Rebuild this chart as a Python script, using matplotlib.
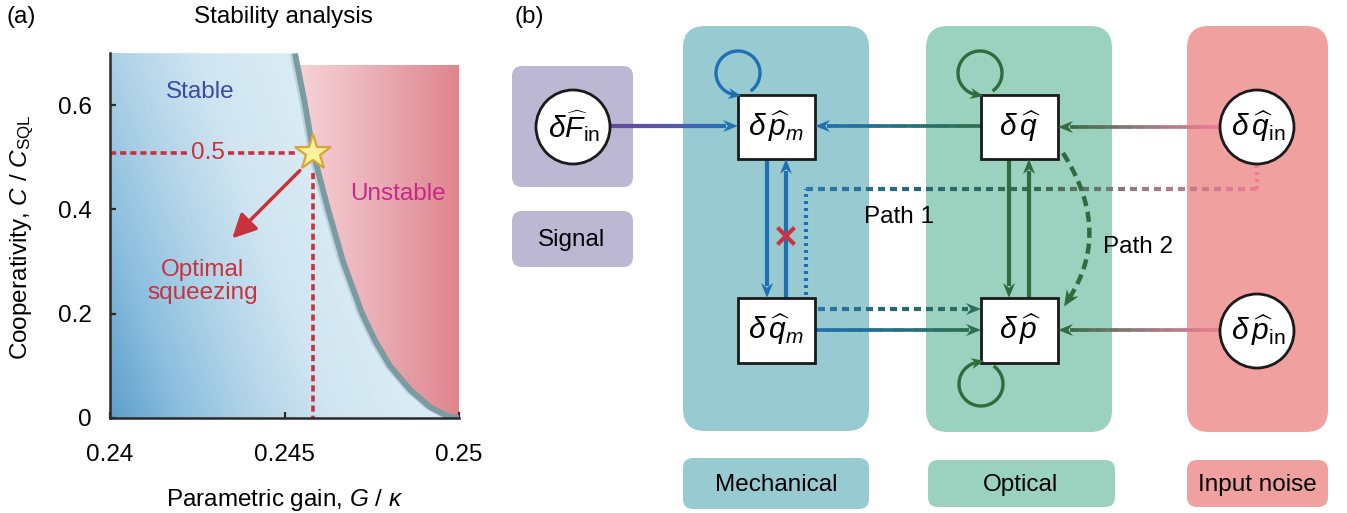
import numpy as np
import matplotlib.pyplot as plt
from matplotlib.patches import FancyBboxPatch, Rectangle, Circle, Polygon
from matplotlib.collections import LineCollection
from matplotlib.colors import LinearSegmentedColormap

plt.rcParams['font.family'] = ['Liberation Sans', 'DejaVu Sans']
plt.rcParams['mathtext.fontset'] = 'custom'
plt.rcParams['mathtext.rm'] = 'Liberation Sans'
plt.rcParams['mathtext.it'] = 'Liberation Sans:italic'
plt.rcParams['mathtext.bf'] = 'Liberation Sans:bold'

# --- DATA: panel (a), stability boundary ---
G_BOUND = [0.24530, 0.24559, 0.24582, 0.24625, 0.24668, 0.24722,
           0.24759, 0.24802, 0.24860, 0.24917, 0.24966, 0.25]
C_BOUND = [0.699, 0.601, 0.509, 0.400, 0.300, 0.201,
           0.149, 0.100, 0.054, 0.021, 0.004, 0.0]
G_OPT, C_OPT = 0.24582, 0.509          # optimal squeezing point (star)
UNSTABLE_TOP = 0.676
X_TICKS = [0.24, 0.245, 0.25]
X_LABELS = ["0.24", "0.245", "0.25"]
Y_TICKS = [0, 0.2, 0.4, 0.6]
Y_LABELS = ["0", "0.2", "0.4", "0.6"]

# --- DATA: panel (b), labels ---
GROUP_NAMES = ["Signal", "Mechanical", "Optical", "Input noise"]
NODE_F_IN = r'$\delta\widehat{F}_{\mathrm{in}}$'
NODE_P_M = r'$\delta\,\widehat{p}_m$'
NODE_Q_M = r'$\delta\,\widehat{q}_m$'
NODE_Q = r'$\delta\,\widehat{q}$'
NODE_P = r'$\delta\,\widehat{p}$'
NODE_Q_IN = r'$\delta\,\widehat{q}_{\mathrm{in}}$'
NODE_P_IN = r'$\delta\,\widehat{p}_{\mathrm{in}}$'
PATH_NAMES = ["Path 1", "Path 2"]

RED = '#c8323c'
BLUE = '#1f6fb4'
GREEN = '#2f6b3d'
FS = 17.5

fig = plt.figure(figsize=(13.47, 5.13), dpi=100)

# overlay in pixel coordinates (y down) for the diagram and loose text
ov = fig.add_axes([0, 0, 1, 1])
ov.set_xlim(0, 1347)
ov.set_ylim(513, 0)
ov.axis('off')


# ---------------- helpers ----------------
def grad_line(p0, p1, cols, lw, n=80, z=3):
    p0, p1 = np.array(p0, float), np.array(p1, float)
    ts = np.linspace(0, 1, n + 1)
    u = (p1 - p0) / np.hypot(*(p1 - p0))
    segs = [[p0 + (p1 - p0) * ts[i], p0 + (p1 - p0) * ts[i + 1] + u * 0.6] for i in range(n)]
    cmap = LinearSegmentedColormap.from_list('g', cols)
    ov.add_collection(LineCollection(segs, colors=cmap((ts[:-1] + ts[1:]) / 2),
                                     linewidths=lw, capstyle='butt', zorder=z))


def dash_grad(p0, p1, cols, lw, dash, gap, z=3):
    p0, p1 = np.array(p0, float), np.array(p1, float)
    L = np.hypot(*(p1 - p0))
    u = (p1 - p0) / L
    starts = np.arange(0, L, dash + gap)
    segs = [[p0 + u * s, p0 + u * min(s + dash, L)] for s in starts]
    cmap = LinearSegmentedColormap.from_list('g', cols)
    ov.add_collection(LineCollection(segs, colors=cmap(np.clip((starts + dash / 2) / L, 0, 1)),
                                     linewidths=lw, capstyle='butt', zorder=z))


def head(tip, d, color, L=15, W=12, z=5):
    tip = np.array(tip, float)
    d = np.array(d, float)
    d /= np.hypot(*d)
    nrm = np.array([-d[1], d[0]])
    base = tip - d * L
    pts = [tip, base + nrm * W / 2, tip - d * L * 0.68, base - nrm * W / 2]
    ov.add_patch(Polygon(pts, closed=True, fc=color, ec='none', zorder=z))


def loop(c, r, t0, t1, color, lw=2.4):
    t = np.radians(np.linspace(t0, t1, 120))
    x = c[0] + r * np.cos(t)
    y = c[1] + r * np.sin(t)
    ov.plot(x, y, color=color, lw=lw, solid_capstyle='butt', zorder=3)
    d = np.array([x[-1] - x[-4], y[-1] - y[-4]])
    d /= np.hypot(*d)
    head((x[-1] + d[0] * 6, y[-1] + d[1] * 6), d, color, L=13, W=11)


def rbox(x, y, w, h, color, r):
    ov.add_patch(FancyBboxPatch((x, y), w, h, boxstyle=f"round,pad=0,rounding_size={r}",
                                fc=color, ec='none', zorder=1))


def node_box(x, y, w, h, label):
    ov.add_patch(Rectangle((x, y), w, h, fc='white', ec='#1a1a1a', lw=2.0, zorder=4))
    ov.text(x + w / 2, y + h / 2 - 1, label, ha='center', va='center', fontsize=21.5, zorder=6)


def node_circle(cx, cy, r, label):
    ov.add_patch(Circle((cx, cy), r, fc='white', ec='#1a1a1a', lw=2.0, zorder=4))
    ov.text(cx + 1, cy - 1, label, ha='center', va='center', fontsize=21.5, zorder=6)


# ---------------- panel (a) ----------------
ax = fig.add_axes([110 / 1347, 95 / 513, 349 / 1347, 365 / 513])
ax.set_xlim(0.24, 0.25)
ax.set_ylim(0, 0.7)

# stable region: diagonal blue gradient clipped to the left of the boundary
gg, cc = np.meshgrid(np.linspace(0.24, 0.25, 300), np.linspace(0, 0.7, 300))
t = np.clip((gg - 0.24) / 0.0042 * 0.5 + cc / 0.7 * 0.45, 0, 1)
blue_map = LinearSegmentedColormap.from_list(
    'b', [(0, '#5e9fcc'), (0.25, '#8cbfdf'), (0.5, '#b2d4e9'), (0.75, '#d0e5f1'), (1, '#d9ebf4')])
stable_poly = Polygon([(0.24, 0), (0.24, 0.7)] + list(zip(G_BOUND, C_BOUND)),
                      closed=True, transform=ax.transData)
im = ax.imshow(blue_map(t), extent=[0.24, 0.25, 0, 0.7], origin='lower',
               aspect='auto', zorder=1, interpolation='bilinear')
im.set_clip_path(stable_poly)

# unstable region: horizontal pink gradient to the right of the boundary
pink_map = LinearSegmentedColormap.from_list('p', ['#f6d6da', '#efbcc3', '#e6a0a8', '#e0858f'])
unstable_poly = Polygon(list(zip(G_BOUND, C_BOUND)) + [(0.25, 0.7)],
                        closed=True, transform=ax.transData)
row = pink_map(np.linspace(0, 1, 300))[None, :, :]
im2 = ax.imshow(row, extent=[0.2452, 0.25, 0, UNSTABLE_TOP], origin='lower',
                aspect='auto', zorder=1, interpolation='bilinear')
im2.set_clip_path(unstable_poly)

# boundary band
ax.plot(np.array(G_BOUND) - 0.00008, C_BOUND, color='#bcd3dc', lw=3.5, zorder=2,
        solid_capstyle='butt')
ax.plot(G_BOUND, C_BOUND, color='#7c9aa1', lw=4.2, zorder=3, solid_capstyle='butt')

# dashed guides to the optimal point
dash_kw = dict(color=RED, lw=2.6, dashes=(1.7, 1.1), zorder=4)
ax.plot([0.24, 0.24223], [C_OPT, C_OPT], **dash_kw)
ax.plot([0.24338, 0.24530], [C_OPT, C_OPT], **dash_kw)
ax.plot([G_OPT, G_OPT], [0.47, 0], **dash_kw)
ax.text(0.24281, C_OPT, "0.5", color=RED, fontsize=FS, ha='center', va='center', zorder=5)

ax.plot(G_OPT, C_OPT, marker='*', ms=27, mfc='#f8f29c', mec='#d9a53a', mew=1.6, zorder=6)

ax.annotate('', xy=(0.24350, 0.3445), xytext=(0.24544, 0.4746),
            arrowprops=dict(arrowstyle='-|>,head_length=0.8,head_width=0.4', color=RED,
                            lw=2.5, mutation_scale=18, shrinkA=0, shrinkB=0), zorder=5)

ax.text(0.24258, 0.626, "Stable", color='#3b4ba0', fontsize=FS, ha='center', va='center', zorder=5)
ax.text(0.24825, 0.43, "Unstable", color='#c8288a', fontsize=FS, ha='center', va='center', zorder=5)
ax.text(0.24266, 0.262, "Optimal\nsqueezing", color=RED, fontsize=FS, ha='center',
        va='center', linespacing=1.05, zorder=5)

for s in ['top', 'right']:
    ax.spines[s].set_visible(False)
for s in ['left', 'bottom']:
    ax.spines[s].set_linewidth(1.8)
    ax.spines[s].set_color('#2a2a2a')
    ax.spines[s].set_zorder(7)
ax.set_xticks(X_TICKS)
ax.set_xticklabels(X_LABELS)
ax.set_yticks(Y_TICKS)
ax.set_yticklabels(Y_LABELS)
ax.tick_params(axis='both', direction='in', length=4, width=1.6, labelsize=FS, color='#2a2a2a')
ax.tick_params(axis='x', pad=19)
ax.tick_params(axis='y', pad=13)

ov.text(21, 17, "(a)", fontsize=FS, ha='center', va='center')
ov.text(283, 17, "Stability analysis", fontsize=FS, ha='center', va='center')
ov.text(22, 237, r'Cooperativity, $C$ / $C_{\mathrm{SQL}}$', fontsize=FS, rotation=90,
        ha='center', va='center')
ov.text(285, 506, r'Parametric gain, $G$ / $\kappa$', fontsize=FS, ha='center', va='baseline')

# ---------------- panel (b) ----------------
ov.text(529, 17, "(b)", fontsize=FS, ha='center', va='center')

rbox(512, 66, 121, 121, '#bcb7d2', 10)
rbox(512, 211, 121, 56, '#bcb7d2', 10)
rbox(683, 26, 186, 405, '#98cbd1', 22)
rbox(683, 458, 186, 51, '#98cbd1', 10)
rbox(926, 26, 186, 406, '#9ad1bf', 22)
rbox(928, 460, 187, 47, '#9ad1bf', 10)
rbox(1187, 26, 141, 406, '#f1a0a0', 22)
rbox(1187, 460, 141, 47, '#f1a0a0', 10)

ov.text(572, 240, GROUP_NAMES[0], fontsize=FS, ha='center', va='center', zorder=6)
ov.text(776, 485, GROUP_NAMES[1], fontsize=FS, ha='center', va='center', zorder=6)
ov.text(1021, 485, GROUP_NAMES[2], fontsize=FS, ha='center', va='center', zorder=6)
ov.text(1257, 485, GROUP_NAMES[3], fontsize=FS, ha='center', va='center', zorder=6)

# self loops
loop((738, 73), 22, 55, -263, BLUE)
loop((980, 73), 22, 55, -263, GREEN)
loop((981, 384), 22, -55, 263, GREEN)

# path 1 (dashed)
dash_grad((806, 309), (806, 189), [BLUE, BLUE], 3.0, 3.5, 3.5)
dash_grad((806, 189), (1257, 189), ['#2a79b6', '#22697a', '#33694f', '#9d7b84', '#f07a96'], 3.0, 7, 5)
dash_grad((1257, 189), (1257, 165), ['#f07a96', '#f07a96'], 3.0, 3.5, 3.5)
dash_grad((806, 309), (968, 309), ['#2a79b6', '#22697a', '#2d6e5a'], 3.0, 7, 5)
head((981, 309), (1, 0), '#2d6e5a')

# path 2 (curved dashed)
tb = np.linspace(0, 1, 80)[:, None]
P0, P1, P2 = np.array([1063, 153]), np.array([1112, 230]), np.array([1070, 297])
bez = (1 - tb) ** 2 * P0 + 2 * (1 - tb) * tb * P1 + tb ** 2 * P2
ov.plot(bez[:, 0], bez[:, 1], color=GREEN, lw=3.2, dashes=(2.3, 1.3), zorder=3)
d2 = (P2 - P1) / np.hypot(*(P2 - P1))
head(P2 + d2 * 11, d2, GREEN, L=16, W=14)

ov.text(899, 217, PATH_NAMES[0], fontsize=FS, ha='center', va='center', zorder=6)
ov.text(1138, 247, PATH_NAMES[1], fontsize=FS, ha='center', va='center', zorder=6)

# solid couplings
grad_line((610, 126), (725, 126), ['#6a4a9c', '#5a58a6', '#2272b8'], 3.0)
head((738, 126), (1, 0), '#2272b8')
grad_line((981, 126), (828, 126), ['#2e6e4e', '#26707a', '#2270b0'], 2.6)
head((815, 126), (-1, 0), '#2270b0')
grad_line((1220, 127), (1071, 127), ['#f07a96', '#9a7a80', '#3a6b48'], 2.6)
head((1058, 127), (-1, 0), '#336b45')
grad_line((1220, 330), (1071, 330), ['#f07a96', '#9a7a80', '#3a6b48'], 2.6)
head((1058, 330), (-1, 0), '#336b45')
grad_line((815, 330), (968, 330), ['#1f6fb0', '#226f86', '#2e6e4e'], 2.6)
head((981, 330), (1, 0), '#2e6e4e')

ov.plot([767, 767], [159, 286], color=BLUE, lw=3.0, solid_capstyle='butt', zorder=3)
head((767, 298), (0, 1), BLUE)
ov.plot([786, 786], [298, 171], color=BLUE, lw=3.0, solid_capstyle='butt', zorder=3)
head((786, 159), (0, -1), BLUE)
ov.plot([1009, 1009], [159, 286], color=GREEN, lw=3.0, solid_capstyle='butt', zorder=3)
head((1009, 298), (0, 1), GREEN)
ov.plot([1029, 1029], [298, 171], color=GREEN, lw=3.0, solid_capstyle='butt', zorder=3)
head((1029, 159), (0, -1), GREEN)

# blocked back-action
ov.plot([779, 793], [229, 243], color='#cc3340', lw=3.0, zorder=6)
ov.plot([779, 793], [243, 229], color='#cc3340', lw=3.0, zorder=6)

# nodes
node_circle(573, 127, 37, NODE_F_IN)
node_box(738, 95, 77, 64, NODE_P_M)
node_box(738, 298, 77, 65, NODE_Q_M)
node_box(981, 95, 77, 64, NODE_Q)
node_box(981, 298, 77, 65, NODE_P)
node_circle(1257, 127, 37, NODE_Q_IN)
node_circle(1257, 331, 37, NODE_P_IN)

fig.savefig('out.png', dpi=100)
